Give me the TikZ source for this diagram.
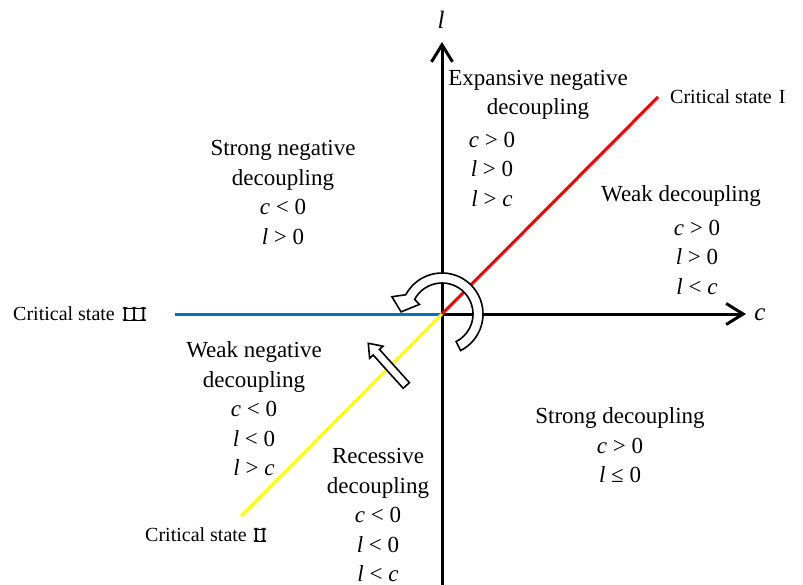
\documentclass[tikz,border=0pt]{standalone}
\usepackage{fontspec}
\setmainfont{Liberation Serif}
\usetikzlibrary{arrows.meta}
\definecolor{cblue}{RGB}{0,112,192}
\definecolor{cred}{RGB}{255,0,0}
\definecolor{cyel}{RGB}{255,255,0}
\newcommand{\mv}[1]{\textit{#1}}
\newcommand{\romannum}[1]{\setbox0=\hbox{#1}%
  \leavevmode\rlap{\kern0.8pt\rule{\dimexpr\wd0-1.6pt\relax}{0.55pt}}%
  \rlap{\kern0.8pt\rule[\dimexpr\fontcharht\font`I-0.55pt\relax]{\dimexpr\wd0-1.6pt\relax}{0.55pt}}%
  \box0}
\newcommand{\rI}{I}
\newcommand{\rII}{\romannum{I\kern1pt I}}
\newcommand{\rIII}{\romannum{I\kern2.5pt I\kern2.5pt I}}
\begin{document}
\begin{tikzpicture}[x=1pt,y=-1pt,
  region/.style={align=center, font=\fontsize{23}{29.5}\selectfont, inner sep=0pt},
  crit/.style={font=\fontsize{20}{24}\selectfont, inner sep=0pt, anchor=west},
  axislab/.style={font=\fontsize{25}{25}\selectfont, inner sep=0pt},
  axisline/.style={line width=3pt, -{Straight Barb[length=17pt,width=21pt]}},
  stateline/.style={line width=3pt},
  hollow/.style={draw=black, fill=white, line width=1.6pt, line join=miter}]
\useasboundingbox (0,0) rectangle (803,585);
% coordinates
\coordinate (O) at (442,314);
\coordinate (ybot) at (442,586);
\coordinate (ytop) at (442,42);
\coordinate (xend) at (746,314);
\coordinate (bl) at (175,314);
\coordinate (rd) at (658,97);
\coordinate (yl) at (241,516);
% axes
\draw[axisline] (ybot) -- (ytop);
\draw[axisline] (O) -- (xend);
% critical lines
\draw[stateline, cblue] (bl) -- (O);
\draw[stateline, cyel] (yl) -- (O);
\draw[stateline, cred] (O) -- (rd);
% circular arrow
\begin{scope}[shift={(442,314)}]
\draw[hollow] (63:41) arc[start angle=63, end angle=-152, radius=41]
  -- (-161:53) -- (-177:41) -- (-157:24.5) -- (-152:31)
  arc[start angle=-152, end angle=63, radius=31] -- cycle;
\end{scope}
% block arrow
\begin{scope}[shift={(406.3,385.5)}, rotate=132]
\draw[hollow] (0,-4.2) -- (44.8,-4.2) -- (44.8,-9) -- (56.8,0) -- (44.8,9) -- (44.8,4.2) -- (0,4.2) -- cycle;
\end{scope}
% axis labels
\node[axislab] (labl) at (441,20) {\mv{l}};
\node[axislab] (labc) at (760,315) {\mv{c}};
% critical state labels
\node[crit] (cs1) at (670,97) {Critical state \kern2pt\rI};
\node[crit] (cs3) at (13,314) {Critical state \kern2pt\rIII};
\node[crit] (cs2) at (145,535) {Critical state \kern1pt\rII};
% region labels
\node[region] (expnegt) at (538,95) {Expansive negative\\decoupling};
\node[region] (expnegm) at (492,169) {\mv{c} > 0\\\mv{l} > 0\\\mv{l} > \mv{c}};
\node[region] (strneg) at (283,192.5) {Strong negative\\decoupling\\\mv{c} < 0\\\mv{l} > 0};
\node[region] (weakt) at (681,196) {Weak decoupling};
\node[region] (weakm) at (697,257) {\mv{c} > 0\\\mv{l} > 0\\\mv{l} < \mv{c}};
\node[region] (weakneg) at (254,409) {Weak negative\\decoupling\\\mv{c} < 0\\\mv{l} < 0\\\mv{l} > \mv{c}};
\node[region] (strong) at (620,445.5) {Strong decoupling\\\mv{c} > 0\\\mv{l} ≤ 0};
\node[region] (recess) at (378,515) {Recessive\\decoupling\\\mv{c} < 0\\\mv{l} < 0\\\mv{l} < \mv{c}};
\end{tikzpicture}
\end{document}
